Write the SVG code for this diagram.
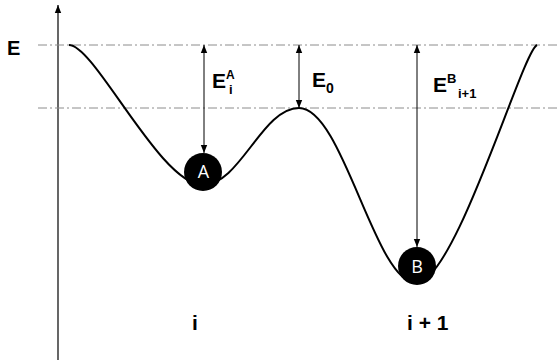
<svg xmlns="http://www.w3.org/2000/svg" width="557" height="360" viewBox="0 0 557 360">
<style>
.ref{stroke:#8c8c8c;stroke-width:1;stroke-dasharray:9,3,2,3;fill:none}
.dim{stroke:#000;stroke-width:1;fill:none;marker-start:url(#ah);marker-end:url(#ah)}
.lbl{font-family:"Liberation Sans",Arial,sans-serif;font-weight:bold;fill:#000}
.ball{fill:#000}
.bt{font-family:"Open Sans","Liberation Sans",sans-serif;font-size:18px;fill:#fff;text-anchor:middle}
</style>
<defs>
<marker id="ah" viewBox="0 0 10 10" refX="10" refY="5" markerWidth="9" markerHeight="8" markerUnits="userSpaceOnUse" orient="auto-start-reverse">
<path d="M0,1 L10,5 L0,9 z" fill="#000"/>
</marker>
</defs>
<rect width="557" height="360" fill="#fff"/>
<g id="axis">
<line x1="58" y1="360" x2="58" y2="5" stroke="#000" stroke-width="1.2" marker-end="url(#ah)"/>
<text class="lbl" x="7" y="55" font-size="20">E</text>
</g>
<g id="levels">
<line class="ref" x1="38" y1="45" x2="557" y2="45"/>
<line class="ref" x1="38" y1="108" x2="557" y2="108"/>
</g>
<g id="curve">
<path d="M69,45 C95,45 160,185 203,185 C240,185 262,108 299,108 C343,108 375,283 416,283 C455,283 522,52 537,45" fill="none" stroke="#000" stroke-width="2"/>
</g>
<g id="connectors">
<line class="dim" x1="204" y1="45" x2="204" y2="153"/>
<line class="dim" x1="299" y1="45" x2="299" y2="108"/>
<line class="dim" x1="417" y1="45" x2="417" y2="247"/>
</g>
<g id="nodeA">
<circle class="ball" cx="203" cy="172" r="19"/>
<text class="bt" x="203.5" y="178">A</text>
</g>
<g id="nodeB">
<circle class="ball" cx="417" cy="266" r="19"/>
<text class="bt" x="417" y="273">B</text>
</g>
<g id="labels">
<text class="lbl" x="212" y="88" font-size="21">E<tspan font-size="12" dy="-9">A</tspan></text>
<text class="lbl" x="229" y="94" font-size="13">i</text>
<text class="lbl" x="312" y="87" font-size="21">E<tspan font-size="14" dy="6">0</tspan></text>
<text class="lbl" x="433" y="92" font-size="21">E<tspan font-size="13" dy="-9">B</tspan><tspan font-size="13" x="458" dy="15">i+1</tspan></text>
<text class="lbl" x="192" y="330" font-size="21">i</text>
<text class="lbl" x="407" y="330" font-size="21">i + 1</text>
</g>
</svg>
